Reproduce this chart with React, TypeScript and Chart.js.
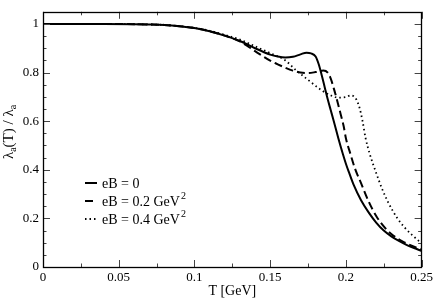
import React, { useEffect, useRef } from "react";
import { Chart, registerables } from "chart.js";

Chart.register(...registerables);

// ---- data ----
const T_SOLID = [0, 0.02, 0.04, 0.06, 0.07, 0.08, 0.09, 0.1, 0.11, 0.12, 0.13, 0.14, 0.15, 0.155, 0.16, 0.165, 0.17, 0.174, 0.177, 0.18, 0.182, 0.184, 0.186, 0.188, 0.19, 0.192, 0.195, 0.198, 0.2, 0.202, 0.205, 0.21, 0.215, 0.22, 0.225, 0.23, 0.235, 0.24, 0.245, 0.25];
const V_SOLID = [1, 1, 1, 0.999, 0.998, 0.996, 0.991, 0.983, 0.97, 0.952, 0.93, 0.9, 0.874, 0.866, 0.862, 0.865, 0.875, 0.882, 0.879, 0.866, 0.835, 0.79, 0.74, 0.69, 0.645, 0.6, 0.53, 0.465, 0.425, 0.39, 0.34, 0.275, 0.225, 0.183, 0.15, 0.126, 0.107, 0.091, 0.078, 0.066];

const T_DASH = [0, 0.02, 0.04, 0.06, 0.07, 0.08, 0.09, 0.1, 0.11, 0.12, 0.13, 0.14, 0.145, 0.15, 0.155, 0.16, 0.165, 0.17, 0.175, 0.18, 0.185, 0.188, 0.19, 0.192, 0.194, 0.1965, 0.1985, 0.2, 0.203, 0.206, 0.21, 0.215, 0.22, 0.226, 0.23, 0.237, 0.243, 0.25];
const V_DASH = [1, 1, 1, 0.999, 0.998, 0.996, 0.991, 0.983, 0.97, 0.952, 0.928, 0.888, 0.868, 0.849, 0.834, 0.82, 0.808, 0.8, 0.798, 0.802, 0.808, 0.8, 0.775, 0.735, 0.69, 0.63, 0.58, 0.53, 0.465, 0.405, 0.345, 0.27, 0.21, 0.16, 0.136, 0.107, 0.089, 0.072];

const T_DOT = [0, 0.02, 0.04, 0.06, 0.07, 0.08, 0.09, 0.1, 0.11, 0.12, 0.13, 0.14, 0.15, 0.16, 0.167, 0.175, 0.184, 0.19, 0.195, 0.2, 0.203, 0.205, 0.207, 0.209, 0.211, 0.213, 0.216, 0.2195, 0.224, 0.228, 0.234, 0.2393, 0.244, 0.248, 0.25];
const V_DOT = [1, 1, 1, 0.999, 0.998, 0.996, 0.991, 0.984, 0.972, 0.955, 0.936, 0.908, 0.88, 0.85, 0.81, 0.77, 0.727, 0.706, 0.697, 0.699, 0.706, 0.703, 0.688, 0.655, 0.6, 0.53, 0.46, 0.396, 0.32, 0.265, 0.2, 0.159, 0.13, 0.108, 0.1];

const SERIES_LABELS = ["eB = 0", "eB = 0.2 GeV", "eB = 0.4 GeV"];
const SERIES_SUP = ["", "2", "2"];
const SERIES_DASH: number[][] = [[], [8, 4], [1.5, 3]];

const X_TICKS = [0, 0.05, 0.1, 0.15, 0.2, 0.25];
const Y_TICKS = [0, 0.2, 0.4, 0.6, 0.8, 1];
const X_MINOR_STEP = 0.025;
const Y_MINOR_STEP = 0.05;
const X_TITLE = "T [GeV]";

const FONT = "'Liberation Serif', 'DejaVu Serif', serif";

const toPts = (xs: number[], ys: number[]) => xs.map((x, i) => ({ x, y: ys[i] }));

const framePlugin = {
  id: "frameTicks",
  afterDraw(chart: any) {
    const ctx = chart.ctx as CanvasRenderingContext2D;
    const { left, right, top, bottom } = chart.chartArea;
    const xs = chart.scales.x;
    const ys = chart.scales.y;
    ctx.save();
    // ticks
    ctx.strokeStyle = "#444";
    ctx.lineWidth = 1;
    const MAJ = 7, MIN = 3.5;
    ctx.beginPath();
    for (let v = 0; v <= 0.25 + 1e-9; v += X_MINOR_STEP) {
      const px = Math.round(xs.getPixelForValue(v)) + 0.5;
      const isMaj = X_TICKS.some((t) => Math.abs(t - v) < 1e-6);
      const L = isMaj ? MAJ : MIN;
      ctx.moveTo(px, bottom); ctx.lineTo(px, bottom - L);
      ctx.moveTo(px, top); ctx.lineTo(px, top + L);
    }
    for (let v = 0; v <= 1.05 + 1e-9; v += Y_MINOR_STEP) {
      const py = Math.round(ys.getPixelForValue(v)) + 0.5;
      const isMaj = Y_TICKS.some((t) => Math.abs(t - v) < 1e-6);
      const L = isMaj ? MAJ : MIN;
      ctx.moveTo(left, py); ctx.lineTo(left + L, py);
      ctx.moveTo(right, py); ctx.lineTo(right - L, py);
    }
    ctx.stroke();
    // frame
    ctx.strokeStyle = "#000";
    ctx.lineWidth = 1.3;
    ctx.strokeRect(Math.round(left) + 0.5, Math.round(top) + 0.5, Math.round(right - left) - 1, Math.round(bottom - top));

    // x title
    ctx.fillStyle = "#000";
    ctx.font = `14px ${FONT}`;
    ctx.textAlign = "center";
    ctx.textBaseline = "alphabetic";
    ctx.fillText(X_TITLE, (left + right) / 2, 295);

    // y title with subscripts
    ctx.save();
    ctx.translate(13, 132);
    ctx.rotate(-Math.PI / 2);
    const big = `15px ${FONT}`;
    const small = `10px ${FONT}`;
    const parts: [string, boolean][] = [["λ", false], ["a", true], ["(T) / λ", false], ["a", true]];
    let w = 0;
    for (const [s, sub] of parts) { ctx.font = sub ? small : big; w += ctx.measureText(s).width; }
    let cx = -w / 2;
    ctx.textAlign = "left";
    for (const [s, sub] of parts) {
      ctx.font = sub ? small : big;
      ctx.fillText(s, cx, sub ? 3 : 0);
      cx += ctx.measureText(s).width;
    }
    ctx.restore();

    // legend
    const rowsY = [183, 201, 219];
    for (let i = 0; i < 3; i++) {
      const y = rowsY[i];
      ctx.strokeStyle = "#000";
      ctx.lineWidth = 2;
      ctx.setLineDash(SERIES_DASH[i]);
      ctx.beginPath();
      ctx.moveTo(85, y); ctx.lineTo(97, y);
      ctx.stroke();
      ctx.setLineDash([]);
      ctx.font = `14px ${FONT}`;
      ctx.textAlign = "left";
      ctx.textBaseline = "middle";
      ctx.fillText(SERIES_LABELS[i], 102, y + 1);
      if (SERIES_SUP[i]) {
        const tw = ctx.measureText(SERIES_LABELS[i]).width;
        ctx.font = `10px ${FONT}`;
        ctx.fillText(SERIES_SUP[i], 102 + tw + 1, y - 5);
      }
    }
    ctx.restore();
  },
};

export default function App() {
  const ref = useRef<HTMLCanvasElement | null>(null);
  useEffect(() => {
    document.body.style.margin = "0";
    const canvas = ref.current!;
    const mk = (xs: number[], ys: number[], dash: number[], lw: number) => ({
      data: toPts(xs, ys),
      borderColor: "#000",
      borderWidth: lw,
      borderDash: dash,
      pointRadius: 0,
      fill: false,
      cubicInterpolationMode: "monotone" as const,
    });
    const chart = new Chart(canvas, {
      type: "line",
      data: {
        datasets: [
          mk(T_SOLID, V_SOLID, SERIES_DASH[0], 2),
          mk(T_DASH, V_DASH, SERIES_DASH[1], 2),
          mk(T_DOT, V_DOT, SERIES_DASH[2], 1.8),
        ],
      },
      options: {
        animation: false,
        responsive: false,
        devicePixelRatio: 1,
        layout: { padding: { top: 2, right: 13, left: 0, bottom: 0 } },
        plugins: { legend: { display: false }, tooltip: { enabled: false } },
        scales: {
          x: {
            type: "linear",
            min: 0,
            max: 0.25,
            grid: { display: false, drawTicks: false },
            border: { display: false },
            afterBuildTicks: (s: any) => { s.ticks = X_TICKS.map((v) => ({ value: v })); },
            afterFit: (s: any) => { s.height = 32; },
            ticks: {
              padding: 3,
              color: "#000",
              maxRotation: 0,
              font: { family: FONT, size: 13 },
              callback: (v: any) => String(Math.round(Number(v) * 100) / 100),
            },
          },
          y: {
            type: "linear",
            min: 0,
            max: 1.05,
            grid: { display: false, drawTicks: false },
            border: { display: false },
            afterBuildTicks: (s: any) => { s.ticks = Y_TICKS.map((v) => ({ value: v })); },
            afterFit: (s: any) => { s.width = 43; },
            ticks: {
              padding: 4,
              color: "#000",
              font: { family: FONT, size: 13 },
              callback: (v: any) => String(Math.round(Number(v) * 10) / 10),
            },
          },
        },
      },
      plugins: [framePlugin],
    });
    return () => chart.destroy();
  }, []);
  return <canvas ref={ref} width={436} height={299} style={{ display: "block" }} />;
}
